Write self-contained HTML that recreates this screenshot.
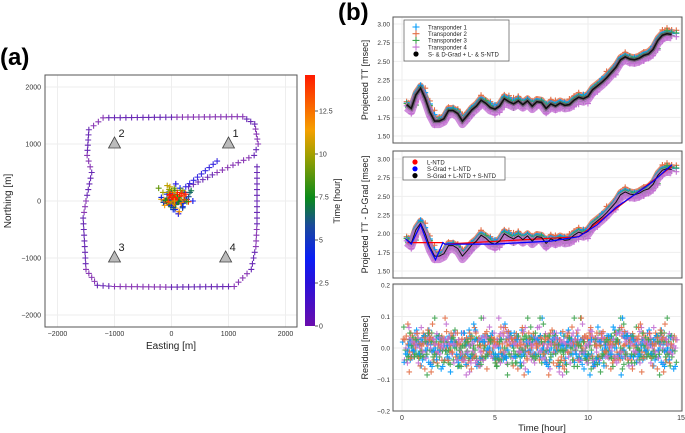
<!DOCTYPE html>
<html><head><meta charset="utf-8"><style>
body{margin:0;background:#fff}
svg{display:block;font-family:"Liberation Sans","DejaVu Sans",sans-serif}
</style></head><body>
<svg id="fig" width="685" height="433" viewBox="0 0 685 433" xmlns="http://www.w3.org/2000/svg">
<defs>
<linearGradient id="cb" x1="0" y1="1" x2="0" y2="0">
<stop offset="0" stop-color="#6a0dad"/><stop offset="0.17" stop-color="#2a10d8"/><stop offset="0.27" stop-color="#0a1ef5"/>
<stop offset="0.4" stop-color="#1a4a9a"/><stop offset="0.51" stop-color="#0a8a1a"/><stop offset="0.68" stop-color="#a0a000"/>
<stop offset="0.78" stop-color="#f5a000"/><stop offset="1" stop-color="#ff1a00"/></linearGradient>
</defs>
<text x="0" y="65" font-size="24" font-weight="bold">(a)</text>
<text x="338" y="20" font-size="24" font-weight="bold">(b)</text>
<g id="a"></g>
<g id="b"></g>
</svg>
<script>
// ---------- data ----------
const ttTimes=[0.25,0.5,0.75,1,1.25,1.5,1.75,2,2.25,2.5,2.75,3,3.25,3.5,3.75,4,4.25,4.5,4.75,5,5.25,5.5,5.75,6,6.25,6.5,6.75,7,7.25,7.5,7.75,8,8.25,8.5,8.75,9,9.25,9.5,9.75,10,10.25,10.5,10.75,11,11.25,11.5,11.75,12,12.25,12.5,12.75,13,13.25,13.5,13.75,14,14.25,14.5];
const ttValues=[1.92,1.87,2.05,2.14,2.0,1.82,1.70,1.70,1.73,1.84,1.84,1.80,1.70,1.77,1.85,1.90,1.98,1.94,1.88,1.86,1.90,2.0,1.96,1.93,1.97,1.92,1.97,1.90,1.96,1.95,1.87,1.93,1.90,1.94,1.91,1.92,1.98,2.02,2.00,2.03,2.12,2.17,2.22,2.28,2.35,2.42,2.52,2.56,2.53,2.52,2.54,2.58,2.60,2.66,2.78,2.85,2.87,2.86];
const transponderOffsets=[0.01,0.035,-0.01,-0.04];
const transponderNames=["Transponder 1","Transponder 2","Transponder 3","Transponder 4"];
const transponderColors=["#009AFA","#E36F47","#3EA44E","#C371D2"];
const blueFitT=[0.2,0.5,1.0,1.4,1.8,2.2,2.3,5,8,9.5,10.5,11.5,12.5,13.5,14.5];
const blueFitV=[1.93,1.86,2.12,1.85,1.65,1.88,1.86,1.86,1.90,1.96,2.12,2.35,2.52,2.70,2.92];
const redFitT=[0.3,2.2,2.3,9.5,14.5];
const redFitV=[1.88,1.88,1.86,1.96,2.90];
const residuals=[0.02,-0.03,0.05,-0.01,0.04,-0.05,0.0,0.03,-0.02,0.06,-0.04,0.01,-0.06,0.03,0.02,-0.03,0.08,-0.07,0.01,0.04,-0.02,0.0,0.05,-0.05,0.03,-0.01,0.07,-0.04,0.02,-0.03,0.04,-0.08,0.01,0.05,-0.02,0.03,-0.06,0.0,0.02,-0.04,0.1,-0.09,0.03,-0.01,0.05,-0.03,0.02,0.04,-0.05,0.01];
const yTicksTT=[1.5,1.75,2.0,2.25,2.5,2.75,3.0];
const yTicksRes=[-0.2,-0.1,0.0,0.1,0.2];
const xTicksTime=[0,5,10,15];
// map
const trackE=[300,800,1450,1520,1460,1250,0,-1200,-1450,-1480,-1400,-1500,-1550,-1500,-1300,-1000,0,1100,1400,1480,1500,1500];
const trackN=[250,500,800,1000,1350,1480,1470,1460,1250,800,500,0,-300,-1200,-1480,-1500,-1510,-1500,-1200,-800,-400,700];
const blueLegE=[800,250];const blueLegN=[700,250];
const clusterE=[-150,-100,-50,0,50,100,150,200,250,-120,-80,20,80,130,180,230,-60,0,60,120,-20,30,10,-30,40,0];
const clusterN=[150,100,180,120,200,150,100,50,0,20,-50,-100,-150,-80,20,120,-20,0,30,-20,-40,20,-10,10,-30,-5];
const clusterHour=[9,10,10.5,8,3,4,5,6,3.5,11,11.5,4,3,6,5,7,12,13,7.5,6.5,13.5,14,14.5,12.5,9,14.2];
const stationE=[1000,-1000,-1000,950];const stationN=[1000,1000,-1000,-1000];const stationLabels=["1","2","3","4"];
const mapTicks=[-2000,-1000,0,1000,2000];
const cbTicks=[0,2.5,5.0,7.5,10.0,12.5];

const NS="http://www.w3.org/2000/svg";
function mk(p,tag,at,txt){const e=document.createElementNS(NS,tag);for(const k in at)e.setAttribute(k,at[k]);if(txt!==undefined)e.textContent=txt;p.appendChild(e);return e;}
function cross(p,x,y,c,s,op){const e=mk(p,'path',{d:`M${x-s} ${y}H${x+s}M${x} ${y-s}V${y+s}`,stroke:c,'stroke-width':1.1,opacity:op||1});

return e;}
function hourColor(h){const stops=[[0,[106,13,173]],[2.5,[42,16,216]],[4,[10,30,245]],[5.8,[26,74,154]],[7.5,[10,138,26]],[10,[160,160,0]],[11.5,[245,160,0]],[14.6,[255,26,0]]];
for(let i=1;i<stops.length;i++){if(h<=stops[i][0]){const a=stops[i-1],b=stops[i],f=(h-a[0])/(b[0]-a[0]);return `rgb(${a[1].map((v,j)=>Math.round(v+(b[1][j]-v)*f)).join(',')})`;}}return 'rgb(255,26,0)';}

// ---------- panel a ----------
const A=document.getElementById('a');
const mx=e=>171.5+e*0.057, my=n=>201-n*0.057;
mk(A,'rect',{x:45,y:75,width:252,height:252,fill:'#fff',stroke:'#555','stroke-width':1});
mapTicks.forEach(t=>{
 mk(A,'line',{x1:mx(t),x2:mx(t),y1:75,y2:327,stroke:'#eee'});mk(A,'line',{y1:my(t),y2:my(t),x1:45,x2:297,stroke:'#eee'});
 const tx=mk(A,'text',{x:mx(t),y:336,'font-size':7,'text-anchor':'middle',fill:'#333'},String(t).replace('-','−'));
 
 const ty=mk(A,'text',{x:41,y:my(t)+2.5,'font-size':7,'text-anchor':'end',fill:'#333'},String(t).replace('-','−'));
 
});
mk(A,'rect',{x:45,y:75,width:252,height:252,fill:'none',stroke:'#555','stroke-width':1});
const xl=mk(A,'text',{x:171,y:349,'font-size':10,'text-anchor':'middle',fill:'#222'},'Easting [m]');

const yl=mk(A,'text',{x:0,y:0,'font-size':10,'text-anchor':'middle',fill:'#222',transform:'translate(11,201) rotate(-90)'},'Northing [m]');

for(let i=1;i<trackE.length;i++){const x0=mx(trackE[i-1]),y0=my(trackN[i-1]),x1=mx(trackE[i]),y1=my(trackN[i]);
 const L=Math.hypot(x1-x0,y1-y0),n=Math.max(1,Math.round(L/5.5));
 for(let k=0;k<n;k++){const f=k/n;cross(A,x0+(x1-x0)*f,y0+(y1-y0)*f,(i%2)?'#6a2bb5':'#8a3ab5',3);} }
{const x0=mx(blueLegE[0]),y0=my(blueLegN[0]),x1=mx(blueLegE[1]),y1=my(blueLegN[1]);const n=Math.round(Math.hypot(x1-x0,y1-y0)/5);
 for(let k=0;k<=n;k++){const f=k/n;cross(A,x0+(x1-x0)*f,y0+(y1-y0)*f,'#3a2ce0',3);} }
const scales=[1.5,1.25,1.0,0.75,0.5,0.3];
scales.forEach((sc,r)=>clusterE.forEach((e,i)=>{const j=(i+r*7)%clusterE.length;cross(A,mx(clusterE[i]*sc+r*10),my(clusterN[j]*sc),hourColor(clusterHour[(i+r*5)%clusterHour.length]+r*0.4),3);}));
stationE.forEach((e,i)=>{const x=mx(e),y=my(stationN[i]);
 const t=mk(A,'path',{d:`M${x} ${y-7}L${x+6} ${y+4}L${x-6} ${y+4}Z`,fill:'#bbb',stroke:'#444','stroke-width':0.8});
 
 const l=mk(A,'text',{x:x+4,y:y-7,'font-size':11,fill:'#222'},stationLabels[i]);
 });
const cb=mk(A,'rect',{x:305,y:75,width:10,height:251,fill:'url(#cb)'});

const cy=h=>326-h*17.2;
cbTicks.forEach(h=>{mk(A,'line',{x1:315,x2:318,y1:cy(h),y2:cy(h),stroke:'#555'});
 const t=mk(A,'text',{x:319,y:cy(h)+2.5,'font-size':7,fill:'#333'},String(h));
 });
const ct=mk(A,'text',{x:0,y:0,'font-size':9,'text-anchor':'middle',fill:'#222',transform:'translate(340,201) rotate(-90)'},'Time [hour]');


// ---------- panel b ----------
const B=document.getElementById('b');
const PL=393;
const X=t=>402+t*18.6;
const Y1=v=>24+(3-v)*74.67, Y2=v=>159+(3-v)*74.67, Y3=r=>348-r*315;
function frame(top,bot,yt,Yf,fmt,title){
 mk(B,'rect',{x:PL,y:top,width:682-PL,height:bot-top,fill:'#fff'});
 xTicksTime.forEach(t=>mk(B,'line',{x1:X(t),x2:X(t),y1:top,y2:bot,stroke:'#eee'}));
 yt.forEach(v=>{mk(B,'line',{x1:PL,x2:682,y1:Yf(v),y2:Yf(v),stroke:'#eee'});
  const l=mk(B,'text',{x:PL-3,y:Yf(v)+2.5,'font-size':6.5,'text-anchor':'end',fill:'#333'},fmt(v));
  });
 const tt=mk(B,'text',{x:0,y:0,'font-size':9,'text-anchor':'middle',fill:'#222',transform:`translate(${368},${(top+bot)/2}) rotate(-90)`},title);
 
}
function border(top,bot){mk(B,'rect',{x:PL,y:top,width:682-PL,height:bot-top,fill:'none',stroke:'#555','stroke-width':1});}
function poly(Yf,ts,vs,off){return ts.map((t,i)=>`${X(t).toFixed(1)},${Yf(vs[i]+off).toFixed(1)}`).join(' ');}
function scatterTT(Yf){
 [1,0,2,3].forEach(k=>{const c=transponderColors[k];
  const band=mk(B,'polyline',{points:poly(Yf,ttTimes,ttValues,transponderOffsets[k]),fill:'none',stroke:c,'stroke-width':k==3?8:6,opacity:0.8,'stroke-linejoin':'round'});
  
  ttTimes.forEach((t,i)=>{cross(B,X(t),Yf(ttValues[i]+transponderOffsets[k]+residuals[(i*3+k*11)%residuals.length]*0.5),c,3);
   cross(B,X(t)+4.6,Yf(ttValues[Math.min(i+1,ttValues.length-1)]*0.5+ttValues[i]*0.5+transponderOffsets[k]+residuals[(i*7+k*5)%residuals.length]*0.5),c,3);});});
}
frame(17,143,yTicksTT,Y1,v=>v.toFixed(2),'Projected TT  [msec]');
scatterTT(Y1);
mk(B,'polyline',{points:poly(Y1,ttTimes,ttValues,0),fill:'none',stroke:'#555','stroke-width':4,opacity:0.7});
const bl=mk(B,'polyline',{points:poly(Y1,ttTimes,ttValues,0),fill:'none',stroke:'#111','stroke-width':1.6});

border(17,143);
const lg=mk(B,'g',{});
mk(lg,'rect',{x:404,y:20,width:105,height:41,fill:'#fff',stroke:'#555','stroke-width':0.7});
transponderNames.forEach((n,i)=>{cross(lg,416,27+i*6.7,transponderColors[i],3.5);
 const t=mk(lg,'text',{x:428,y:29.3+i*6.7,'font-size':6,fill:'#222'},n);});
mk(lg,'circle',{cx:416,cy:54,r:2.6,fill:'#000'});
{const t=mk(lg,'text',{x:428,y:56.3,'font-size':6,fill:'#222'},'S- & D-Grad + L- & S-NTD');}
frame(151,278,yTicksTT,Y2,v=>v.toFixed(2),'Projected TT - D-Grad [msec]');
scatterTT(Y2);
{const r=mk(B,'polyline',{points:poly(Y2,redFitT,redFitV,0),fill:'none',stroke:'#f00','stroke-width':1.2});
 const k=mk(B,'polyline',{points:poly(Y2,ttTimes,ttValues,0),fill:'none',stroke:'#111','stroke-width':1});
 const b=mk(B,'polyline',{points:poly(Y2,blueFitT,blueFitV,0),fill:'none',stroke:'#00f','stroke-width':1.2});}
border(151,278);
const lg2=mk(B,'g',{});
mk(lg2,'rect',{x:403,y:157,width:102,height:23,fill:'#fff',stroke:'#555','stroke-width':0.7});
[['L-NTD','#f00'],['S-Grad + L-NTD','#00f'],['S-Grad + L-NTD + S-NTD','#000']].forEach((e,i)=>{mk(lg2,'circle',{cx:415,cy:162+i*6.8,r:2.6,fill:e[1]});
 const t=mk(lg2,'text',{x:427,y:164.3+i*6.8,'font-size':6,fill:'#222'},e[0]);});
frame(284,411,yTicksRes,Y3,v=>v.toFixed(1).replace('-','−'),'Residual [msec]');
const resOrder=[0,1,2,3];
for(let s=0;s<6;s++)resOrder.forEach(k=>{ttTimes.forEach((t,i)=>{const r=residuals[(i*(s+3)+k*13+s*17)%residuals.length]*(s%2?0.65:0.95);
 cross(B,X(t)+s*1.5-4+k*0.6,Y3(r),transponderColors[k],2.8,0.9);});});
border(284,411);
xTicksTime.forEach(t=>{const l=mk(B,'text',{x:X(t),y:420,'font-size':7,'text-anchor':'middle',fill:'#333'},String(t));
 });
{const l=mk(B,'text',{x:542,y:431,'font-size':9.5,'text-anchor':'middle',fill:'#222'},'Time [hour]');}
</script>
</body></html>
